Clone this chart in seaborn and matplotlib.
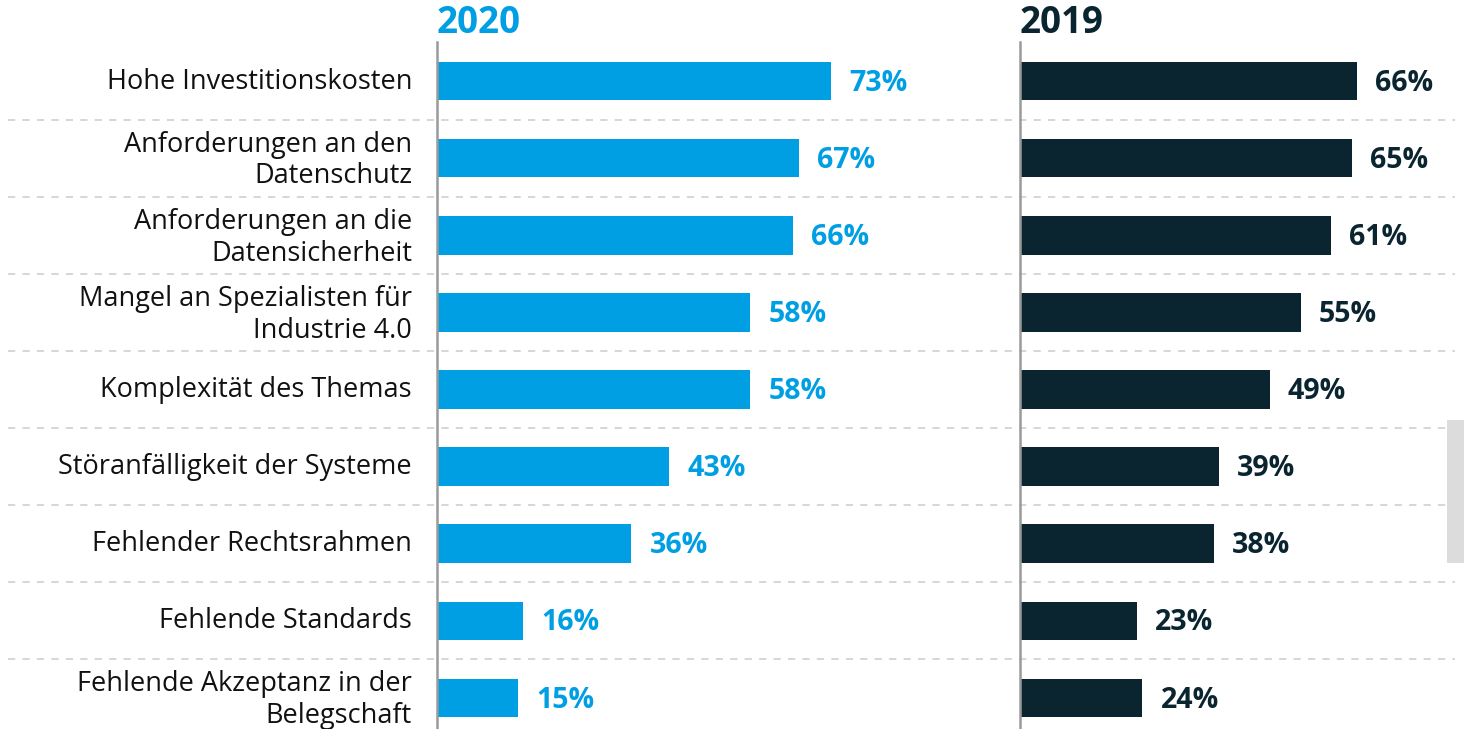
import matplotlib
matplotlib.use("Agg")
import matplotlib.pyplot as plt
import matplotlib.transforms as mtransforms
from matplotlib.patches import Rectangle
from matplotlib.lines import Line2D
import seaborn as sns
import pandas as pd

categories = [
    "Hohe Investitionskosten",
    "Anforderungen an den\nDatenschutz",
    "Anforderungen an die\nDatensicherheit",
    "Mangel an Spezialisten für\nIndustrie 4.0",
    "Komplexität des Themas",
    "Störanfälligkeit der Systeme",
    "Fehlender Rechtsrahmen",
    "Fehlende Standards",
    "Fehlende Akzeptanz in der\nBelegschaft",
]
values_2020 = [73, 67, 66, 58, 58, 43, 36, 16, 15]
values_2019 = [66, 65, 61, 55, 49, 39, 38, 23, 24]
titles = ["2020", "2019"]

BLUE = "#009FE3"
DARK = "#0B2530"
GRID = "#D3D3D3"
AXIS = "#9A9A9A"

sns.set_theme(style="white")
plt.rcParams["font.family"] = ["Open Sans", "DejaVu Sans"]

W, H = 1464, 729
fig = plt.figure(figsize=(W / 100, H / 100), dpi=100)

row_top = 42.5
row_bot = 736.5
ax_b = 1 - row_bot / H
ax_h = (row_bot - row_top) / H

# left panel: 5.4 px per %, right panel: 5.1 px per %
left_x0, left_w = 437, 540
right_x0, right_w = 1020, 444
ax1 = fig.add_axes([left_x0 / W, ax_b, left_w / W, ax_h])
ax2 = fig.add_axes([right_x0 / W, ax_b, right_w / W, ax_h])

df = pd.DataFrame({"cat": categories, "v2020": values_2020, "v2019": values_2019})

for ax, col, color, xmax, title in [
    (ax1, "v2020", BLUE, left_w / 5.4, titles[0]),
    (ax2, "v2019", DARK, right_w / 5.1, titles[1]),
]:
    sns.barplot(data=df, x=col, y="cat", orient="h", color=color, width=0.5,
                saturation=1, ax=ax, edgecolor=color, linewidth=0)
    ax.set_xlim(0, xmax)
    ax.set_ylim(len(categories) - 0.5, -0.5)
    ax.set_xlabel("")
    ax.set_ylabel("")
    ax.set_xticks([])
    for s in ["top", "right", "bottom"]:
        ax.spines[s].set_visible(False)
    ax.spines["left"].set_color(AXIS)
    ax.spines["left"].set_linewidth(1.8)
    ax.spines["left"].set_zorder(5)
    ax.patch.set_alpha(0)
    for i, v in enumerate(df[col]):
        ax.annotate(f"{v}%", xy=(v, i), xytext=(13, -1.5), textcoords="offset points",
                    ha="left", va="center", fontsize=20.5, fontweight="bold", color=color)
    tt = mtransforms.blended_transform_factory(ax.transAxes, fig.transFigure)
    ax.text(0, 1 - 33 / H, title, transform=tt, ha="left", va="baseline",
            fontsize=26.5, fontweight="bold", color=color)

ax1.set_yticks(range(len(categories)))
ax1.set_yticklabels(categories, fontsize=19.5, color="#111111", linespacing=1.18)
ax1.tick_params(axis="y", length=0, pad=18)
ax2.set_yticks([])
shift = mtransforms.ScaledTranslation(0, 3 / 100, fig.dpi_scale_trans)
for lab in ax1.get_yticklabels():
    lab.set_transform(lab.get_transform() + shift)

# dashed separators across the whole figure
trans = mtransforms.blended_transform_factory(fig.transFigure, ax1.transData)
for i in range(len(categories) - 1):
    fig.add_artist(Line2D([8 / W, 1455 / W], [i + 0.5, i + 0.5], transform=trans,
                          color=GRID, linestyle=(0, (4, 4)), linewidth=1.3, zorder=0))

# light grey box at the right edge
fig.add_artist(Rectangle((1447 / W, 1 - 563 / H), 17 / W, 143 / H,
                         transform=fig.transFigure, facecolor="#DCDCDC",
                         edgecolor="none", zorder=3))

fig.savefig("out.png", dpi=100)
